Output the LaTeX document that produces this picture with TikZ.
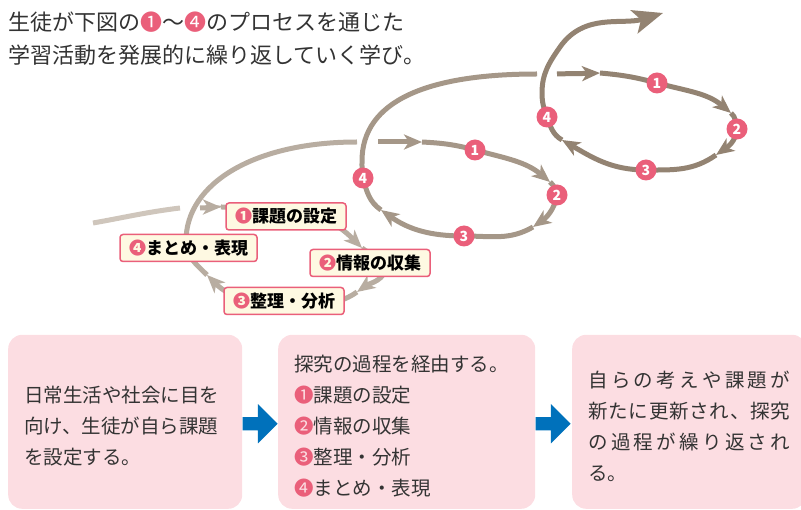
\documentclass[tikz,border=0pt]{standalone}
\usepackage{fontspec}
\setmainfont{Noto Sans CJK JP}
\usetikzlibrary{arrows.meta,shapes.arrows}
\definecolor{txt}{HTML}{333333}
\definecolor{pinkc}{HTML}{EA5F7A}
\definecolor{boxpink}{HTML}{FCDDE2}
\definecolor{cream}{HTML}{FEF9E2}
\definecolor{blu}{HTML}{0071BB}
\definecolor{spA}{HTML}{CFC6BC}
\definecolor{spB}{HTML}{B8ADA1}
\definecolor{spC}{HTML}{A59788}
\definecolor{spD}{HTML}{938372}
\newcommand{\cnum}[1]{{\color{pinkc}#1}}
\tikzset{
  sp/.style={line width=5pt},
  midtip/.style={-{Stealth[length=18pt,width=15pt,inset=5pt]}},
  bigtip/.style={-{Stealth[length=30pt,width=24pt,inset=7pt]}},
  num/.style={circle,fill=pinkc,text=white,inner sep=0pt,minimum size=21pt,font=\fontsize{14}{14}\selectfont\bfseries},
  lab/.style={draw=pinkc,fill=cream,line width=1.5pt,rounded corners=3pt,minimum height=27pt,inner xsep=9pt,inner ysep=0pt,font=\fontsize{17}{17}\selectfont\bfseries,text=black},
  bbox/.style={fill=boxpink,rounded corners=14pt,minimum height=174pt,anchor=south west,inner sep=0pt},
  btext/.style={align=left,inner sep=0pt,text=txt,font=\fontsize{19.5}{31}\selectfont},
  barrow/.style={single arrow,fill=blu,minimum height=35pt,single arrow head extend=13pt,inner xsep=0pt,inner ysep=6.5pt,anchor=tail}
}
\begin{document}
\begin{tikzpicture}[x=1pt,y=1pt]
\useasboundingbox (0,0) rectangle (801,509);
% ---------- title ----------
\node[anchor=base west,inner sep=0pt,text=txt,font=\fontsize{22}{33}\selectfont] (t1) at (8,478) {生徒が下図の\cnum{❶}～\cnum{❹}のプロセスを通じた};
\node[anchor=base west,inner sep=0pt,text=txt,font=\fontsize{22}{33}\selectfont] (t2) at (8,445) {学習活動を発展的に繰り返していく学び。};
% ---------- coordinates ----------
\coordinate (L1a) at (93,286);
\coordinate (L1e) at (180,301);
\coordinate (L1b) at (200,301);
\coordinate (A11) at (221,302);
\coordinate (P1) at (300,296);
\coordinate (A12) at (362,261);
\coordinate (Q1) at (386,244);
\coordinate (A13) at (357,217);
\coordinate (B1) at (284,206);
\coordinate (A14) at (207,234);
\coordinate (Lf) at (186,268);
\coordinate (E1) at (357,367);
\coordinate (L2b) at (378,367);
\coordinate (A21) at (422,367);
\coordinate (C21) at (475,359);
\coordinate (A22) at (550,327);
\coordinate (C22) at (557,314);
\coordinate (A23) at (533,282);
\coordinate (C23) at (464,273);
\coordinate (A24) at (381,299);
\coordinate (C24) at (363,331);
\coordinate (R21) at (362,348);
\coordinate (E2) at (537,435);
\coordinate (L3b) at (557,435);
\coordinate (A31) at (600,436);
\coordinate (C31) at (657,426);
\coordinate (A32) at (731,396);
\coordinate (C32) at (737,380);
\coordinate (A33) at (716,354);
\coordinate (C33) at (646,339);
\coordinate (A34) at (562,369);
\coordinate (C34) at (547,392);
\coordinate (R31) at (542,416);
\coordinate (R32) at (560,462);
\coordinate (T3) at (663,496);
% ---------- loop 1 ----------
\draw[sp,spA] (L1a) to[out=10,in=187] (L1e);
\draw[sp,spB,midtip] (L1b) to[out=1,in=180] (A11);
\draw[sp,spB,midtip] (A11) to[out=0,in=172] (P1) to[out=-8,in=135] (A12);
\draw[sp,spB,midtip] (A12) to[out=-45,in=90] (Q1) to[out=-90,in=35] (A13);
\draw[sp,spB,midtip] (A13) to[out=-145,in=0] (B1) to[out=180,in=-45] (A14);
\draw[sp,spB] (A14) to[out=135,in=-90] (Lf) .. controls (186,326) and (255,367) .. (E1);
% ---------- loop 2 ----------
\draw[sp,spC,midtip] (L2b) to[out=0,in=180] (A21);
\draw[sp,spC,midtip] (A21) to[out=-3,in=165] (C21) to[out=-15,in=140] (A22);
\draw[sp,spC,midtip] (A22) to[out=-40,in=105] (C22) to[out=-100,in=35] (A23);
\draw[sp,spC,midtip] (A23) to[out=-150,in=0] (C23) to[out=180,in=-35] (A24);
\draw[sp,spC] (A24) to[out=145,in=-75] (C24) to[out=100,in=-90] (R21) .. controls (362,408) and (427,435) .. (E2);
% ---------- loop 3 ----------
\draw[sp,spD,midtip] (L3b) to[out=2,in=182] (A31);
\draw[sp,spD,midtip] (A31) to[out=-5,in=165] (C31) to[out=-15,in=140] (A32);
\draw[sp,spD,midtip] (A32) to[out=-40,in=105] (C32) to[out=-95,in=35] (A33);
\draw[sp,spD,midtip] (A33) to[out=-145,in=0] (C33) to[out=180,in=-30] (A34);
\draw[sp,spD,bigtip] (A34) to[out=150,in=-70] (C34) to[out=110,in=-90] (R31) to[out=90,in=-125] (R32) to[out=55,in=-163] (T3);
% ---------- numbered circles ----------
\node[num] (n21) at (C21) {1};
\node[num] (n22) at (C22) {2};
\node[num] (n23) at (C23) {3};
\node[num] (n24) at (C24) {4};
\node[num] (n31) at (C31) {1};
\node[num] (n32) at (C32) {2};
\node[num] (n33) at (C33) {3};
\node[num] (n34) at (C34) {4};
% ---------- loop 1 labels ----------
\node[lab] (k1) at (286,292.5) {\cnum{❶}課題の設定};
\node[lab] (k4) at (188.5,261) {\cnum{❹}まとめ・表現};
\node[lab] (k2) at (370,246) {\cnum{❷}情報の収集};
\node[lab] (k3) at (284,208) {\cnum{❸}整理・分析};
% ---------- bottom boxes ----------
\node[bbox,minimum width=234pt] (b1) at (8,0) {};
\node[bbox,minimum width=257pt] (b2) at (278,0) {};
\node[bbox,minimum width=234pt] (b3) at (572,0) {};
\node[btext,text width=202pt] (b1t) at ([yshift=-4pt]b1.center) {日常生活や社会に目を\\向け、生徒が自ら課題\\を設定する。};
\node[btext,text width=225pt] (b2t) at ([yshift=-4pt]b2.center) {探究の過程を経由する。\\\cnum{❶}課題の設定\\\cnum{❷}情報の収集\\\cnum{❸}整理・分析\\\cnum{❹}まとめ・表現};
\node[btext,text width=202pt] (b3t) at ([yshift=-5pt]b3.center) {\makebox[202pt][s]{自\hfil ら\hfil の\hfil 考\hfil え\hfil や\hfil 課\hfil 題\hfil が}\\\makebox[202pt][s]{新\hfil た\hfil に\hfil 更\hfil 新\hfil さ\hfil れ\hfil 、\hfil 探\hfil 究}\\\makebox[202pt][s]{の\hfil 過\hfil 程\hfil が\hfil 繰\hfil り\hfil 返\hfil さ\hfil れ}\\る。};
\node[barrow] (ar1) at ([yshift=-2pt]b1.east) {};
\node[barrow] (ar2) at ([yshift=-2pt]b2.east) {};
\end{tikzpicture}
\end{document}
